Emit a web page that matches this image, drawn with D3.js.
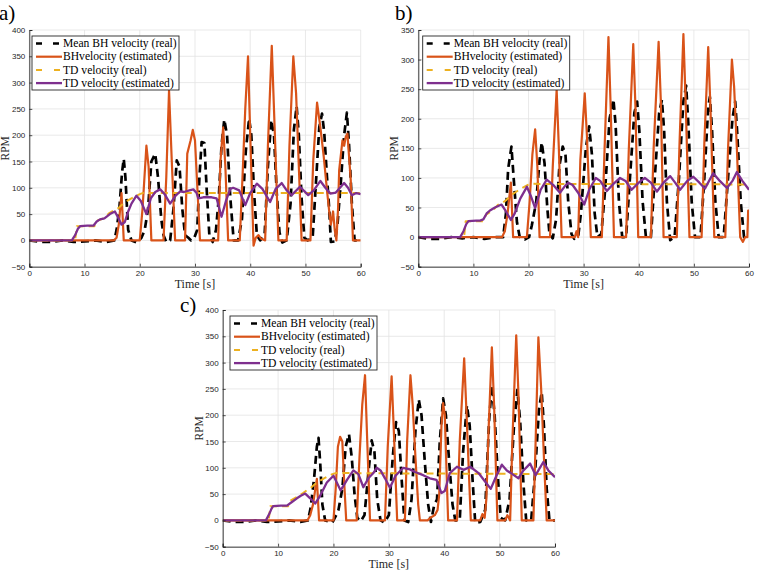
<!DOCTYPE html>
<html>
<head>
<meta charset="utf-8">
<script src="https://cdn.jsdelivr.net/npm/d3@7/dist/d3.min.js"></script>
<style>
  body { margin: 0; background: #fff; }
  svg { display: block; }
</style>
</head>
<body>
<div id="chart"></div>
<script>
// ---- data ----
const timeTicks = [0, 10, 20, 30, 40, 50, 60];
const rpmTicks400 = [-50, 0, 50, 100, 150, 200, 250, 300, 350, 400];
const rpmTicks350 = [-50, 0, 50, 100, 150, 200, 250, 300, 350];
const panelLabels = ['a)', 'b)', 'c)'];
const legendLabels = ['Mean BH velocity (real)', 'BHvelocity (estimated)', 'TD velocity (real)', 'TD velocity (estimated)'];

// panel a  [time s, rpm]
const aBHreal = [[0,0],[2,-3],[4,-3],[6,0],[8,-3],[10,-2],[12,0],[14,-3],[15.4,0],[15.8,20],[16.3,60],[16.8,130],[17.1,155],[17.4,120],[17.9,20],[18.5,0],[19.5,-4],[20.3,5],[20.9,20],[21.5,60],[22.1,150],[22.8,165],[23.3,120],[23.9,40],[24.3,10],[24.8,-3],[25.5,0],[26.1,60],[26.7,152],[27.2,140],[27.7,60],[28.2,10],[28.8,5],[29.3,0],[29.8,3],[30.4,20],[30.8,120],[31.2,187],[31.7,185],[32.1,100],[32.6,10],[33.2,-3],[33.8,20],[34.3,80],[34.8,180],[35.3,230],[35.8,200],[36.4,80],[37.0,0],[37.8,0],[38.5,40],[39.2,170],[39.8,232],[40.2,200],[40.7,90],[41.2,10],[41.8,0],[42.6,10],[43.2,140],[43.8,229],[44.3,200],[44.8,90],[45.3,15],[45.8,-4],[46.6,0],[47.3,70],[47.9,210],[48.4,255],[48.8,200],[49.3,80],[49.8,5],[50.4,0],[51.3,5],[51.9,110],[52.5,215],[53.0,241],[53.4,205],[53.9,120],[54.3,60],[54.6,-3],[55.3,-2],[55.8,30],[56.4,110],[57.0,200],[57.5,243],[57.9,180],[58.4,70],[58.9,0],[60,0]];
const aBHest = [[0,0],[15.3,0],[15.8,5],[16.2,30],[16.7,90],[17.1,0],[20.0,0],[20.5,60],[21.2,180],[21.6,140],[22.1,0],[24.3,0],[24.8,120],[25.3,285],[25.8,150],[26.4,0],[28.2,0],[28.6,165],[29.2,190],[29.6,210],[30.0,190],[30.9,0],[34.2,0],[34.6,150],[35.1,215],[35.5,140],[36.0,0],[38.1,0],[38.6,120],[39.1,250],[39.6,350],[40.0,200],[40.6,-10],[41.0,5],[41.5,10],[42.0,3],[42.7,0],[43.2,180],[43.9,370],[44.4,220],[45.1,0],[46.6,0],[47.1,180],[47.8,350],[48.3,280],[49.3,0],[50.9,0],[51.4,150],[52.1,262],[52.7,215],[53.3,160],[53.9,95],[54.3,55],[54.6,30],[55.0,55],[55.3,20],[55.6,0],[55.9,60],[56.1,133],[56.7,190],[57.0,180],[57.3,197],[57.6,203],[58.2,114],[58.6,0],[60,0]];
const aTDreal = [[0,0],[8.3,0],[8.6,27],[11.8,27],[12.2,37],[13.5,42],[14.5,52],[15.3,57],[16.2,62],[17.2,72],[18.5,80],[20.0,88],[20.5,90],[60,90]];
const aTDest = [[0,0],[7.7,0],[8.3,10],[8.8,22],[9.2,27],[10.5,28],[11.6,28],[12.2,36],[12.8,40],[13.6,42],[14.6,50],[15.5,55],[16.0,45],[16.7,30],[17.3,35],[17.9,55],[18.5,70],[19.4,85],[20.2,75],[21.2,50],[22.0,80],[22.8,92],[23.7,97],[24.5,88],[25.5,70],[26.5,85],[27.3,93],[28.0,92],[29.0,95],[29.7,97],[30.3,90],[30.6,80],[31.5,82],[33.0,82],[33.9,80],[34.8,45],[35.6,75],[36.4,98],[36.9,100],[38.0,95],[39.1,67],[40.0,90],[41.2,108],[42.2,98],[43.6,73],[44.6,98],[45.7,109],[46.6,95],[47.5,86],[49.0,102],[50.5,86],[51.5,95],[52.7,113],[53.6,100],[54.5,89],[55.5,91],[57.0,109],[57.7,100],[58.4,86],[59.2,90],[60,88]];

// panel b
const bBHreal = [[0,0],[2,-3],[4,-3],[6,0],[8,-2],[10,0],[12,-3],[14,0],[15.4,0],[15.9,40],[16.3,115],[16.9,153],[17.3,100],[17.9,25],[18.4,0],[19.3,-4],[20.1,0],[20.6,20],[21.4,60],[22.0,130],[22.4,160],[22.9,125],[23.4,50],[23.8,5],[24.4,-2],[25.0,30],[25.6,120],[26.2,153],[26.7,140],[27.2,60],[27.8,5],[28.3,-3],[29.0,0],[29.5,40],[30.4,150],[31.0,187],[31.5,140],[32.0,40],[32.5,0],[33.2,5],[33.9,80],[34.7,200],[35.4,233],[35.8,190],[36.4,60],[37.0,0],[37.7,0],[38.4,100],[39.2,210],[39.7,229],[40.1,180],[40.7,60],[41.3,0],[42.2,0],[42.9,100],[43.7,210],[44.2,232],[44.6,180],[45.1,60],[45.7,-5],[46.5,0],[47.3,100],[48.1,230],[48.6,256],[49.0,190],[49.6,60],[50.2,0],[51.2,0],[51.9,100],[52.6,220],[52.9,237],[53.3,180],[53.9,60],[54.5,0],[55.4,0],[56.2,100],[57.0,200],[57.5,229],[57.9,170],[58.5,60],[59.1,0],[60,0]];
const bBHest = [[0,0],[15.2,0],[15.7,10],[16.2,40],[16.8,92],[17.2,0],[19.7,0],[20.2,60],[20.7,140],[21.2,182],[21.6,120],[22.0,0],[23.9,0],[24.4,120],[25.1,249],[25.5,150],[26.0,0],[28.4,0],[28.7,10],[29.0,0],[29.4,130],[30.2,243],[30.6,170],[31.3,0],[33.3,0],[33.8,150],[34.5,338],[34.9,220],[35.5,0],[37.7,0],[38.2,150],[39.0,326],[39.4,220],[39.9,0],[42.2,0],[42.7,150],[43.6,330],[44.0,230],[44.5,0],[46.9,0],[47.4,160],[48.1,343],[48.5,230],[49.2,0],[51.4,0],[51.9,160],[52.6,321],[53.0,220],[53.7,0],[55.7,0],[56.2,150],[56.9,300],[57.3,254],[57.8,150],[58.4,0],[58.9,-8],[59.3,0],[59.7,0],[59.85,45],[60,45]];
const bTDreal = [[0,0],[8.3,0],[8.6,27],[11.8,27],[12.3,38],[13.5,45],[14.5,55],[15.3,58],[16.0,63],[17.0,72],[18.3,80],[19.8,88],[20.5,90],[60,89]];
const bTDest = [[0,0],[7.6,0],[8.2,10],[8.7,22],[9.1,27],[10.5,28],[11.2,28],[11.8,30],[12.4,40],[13.0,45],[13.9,50],[15.1,55],[15.8,45],[16.8,29],[17.5,40],[18.5,65],[19.7,85],[20.4,70],[21.2,49],[22.2,80],[23.3,97],[24.5,88],[25.7,75],[26.5,85],[27.2,92],[28.0,88],[29.0,75],[30.1,55],[31.0,80],[32.2,100],[33.0,95],[34.2,78],[35.4,90],[36.6,100],[37.6,95],[38.7,80],[40.0,92],[41.1,100],[42.2,92],[43.3,77],[44.5,92],[45.7,103],[46.6,92],[47.5,80],[48.8,95],[49.9,102],[51.0,92],[52.0,82],[53.5,108],[54.7,95],[56.0,83],[57.0,95],[57.8,110],[58.8,95],[60,80]];

// panel c
const cBHreal = [[0,0],[2,-3],[4,-3],[6,0],[8,-3],[10,-2],[12,0],[14,-3],[15.4,0],[15.9,25],[16.5,80],[17.0,140],[17.3,157],[17.6,110],[18.0,30],[18.5,0],[19.8,-4],[20.5,10],[20.9,20],[21.6,60],[22.2,140],[22.8,164],[23.3,120],[23.8,50],[24.3,5],[24.9,-2],[25.6,10],[26.3,90],[26.9,152],[27.4,130],[27.9,40],[28.5,0],[29.2,-4],[30.0,10],[30.7,120],[31.3,187],[31.8,170],[32.3,80],[32.8,0],[33.5,-3],[34.1,40],[34.8,170],[35.4,230],[35.9,200],[36.5,110],[37.1,30],[37.6,-3],[38.2,30],[38.7,40],[39.2,150],[39.8,232],[40.3,200],[40.9,110],[41.5,30],[42.0,0],[42.8,0],[43.4,130],[44.1,219],[44.6,180],[45.1,80],[45.6,-5],[46.5,-3],[47.4,20],[48.1,190],[48.6,257],[49.1,200],[49.7,80],[50.2,5],[51.0,0],[51.8,40],[52.6,180],[53.2,248],[53.7,190],[54.3,70],[54.8,0],[55.7,0],[56.4,90],[57.1,210],[57.6,244],[58.0,180],[58.5,60],[59.0,0],[60,0]];
const cBHest = [[0,0],[15.3,0],[15.8,10],[16.3,30],[17.0,79],[17.4,0],[20.0,0],[20.4,60],[20.8,140],[21.2,159],[21.6,150],[21.9,80],[22.3,0],[24.2,0],[24.7,120],[25.2,220],[25.7,276],[26.1,150],[26.6,0],[29.3,0],[29.8,140],[30.5,274],[30.9,170],[31.5,0],[32.9,0],[33.3,150],[33.9,276],[34.3,220],[34.8,120],[35.3,30],[35.6,0],[37.0,0],[37.5,5],[38.3,10],[38.8,20],[39.1,50],[39.5,180],[39.8,223],[40.1,200],[40.7,0],[42.3,0],[42.8,150],[43.6,308],[44.0,210],[44.8,0],[46.5,0],[46.9,12],[47.3,5],[47.6,40],[48.0,170],[48.6,329],[49.0,220],[49.6,0],[51.0,0],[51.4,10],[51.9,0],[52.3,150],[53.0,352],[53.4,240],[54.0,0],[56.1,0],[56.5,150],[57.0,348],[57.5,250],[58.0,120],[58.5,0],[60,0]];
const cTDreal = [[0,0],[8.3,0],[8.6,27],[11.8,27],[12.3,38],[13.5,45],[14.5,52],[15.3,58],[16.0,63],[17.0,72],[18.3,80],[19.8,88],[20.5,90],[60,88]];
const cTDest = [[0,0],[7.8,0],[8.4,12],[8.8,22],[9.1,27],[10.5,28],[11.6,28],[12.5,35],[13.4,42],[14.1,47],[14.9,51],[15.8,42],[16.7,32],[17.5,45],[18.8,72],[20.0,85],[20.6,72],[21.3,57],[22.5,78],[23.6,95],[24.5,88],[25.4,63],[26.3,80],[27.2,90],[27.8,100],[28.5,95],[29.3,80],[30.2,62],[31.2,85],[32.6,100],[33.8,97],[34.7,92],[36.2,86],[37.4,80],[38.6,77],[39.5,52],[40.1,56],[41.0,90],[42.3,102],[43.5,96],[44.7,102],[46.2,90],[47.3,75],[48.4,60],[49.3,82],[50.4,106],[51.3,95],[52.3,88],[53.4,80],[54.3,95],[55.5,108],[56.5,86],[57.9,111],[58.8,95],[60,82]];

// ---- drawing ----
const W = 759, H = 571;
const COLORS = ['#000000', '#D95319', '#EDB120', '#7E2F8E'];
const STYLES = [
  { width: 2.7, dash: '8,5' },
  { width: 2.2, dash: null },
  { width: 2, dash: '7,5' },
  { width: 2.3, dash: null }
];
const SERIF = '"Liberation Serif", "Times New Roman", serif';

const svg = d3.select('#chart').append('svg')
  .attr('width', W).attr('height', H)
  .attr('viewBox', `0 0 ${W} ${H}`);

function drawPanel(idx, box, yTicks, series, label, labelX, labelY) {
  const x = d3.scaleLinear().domain([0, 60]).range([box.x0, box.x1]);
  const y = d3.scaleLinear().domain([-50, d3.max(yTicks)]).range([box.y1, box.y0]);
  const g = svg.append('g');

  // grid
  g.selectAll('.gx').data(timeTicks).join('line')
    .attr('x1', d => x(d)).attr('x2', d => x(d))
    .attr('y1', box.y0).attr('y2', box.y1)
    .attr('stroke', '#e3e3e3').attr('stroke-width', 0.8);
  g.selectAll('.gy').data(yTicks).join('line')
    .attr('x1', box.x0).attr('x2', box.x1)
    .attr('y1', d => y(d)).attr('y2', d => y(d))
    .attr('stroke', '#e3e3e3').attr('stroke-width', 0.8);

  // lines
  const clipId = 'clip' + idx;
  svg.append('clipPath').attr('id', clipId).append('rect')
    .attr('x', box.x0).attr('y', box.y0)
    .attr('width', box.x1 - box.x0).attr('height', box.y1 - box.y0);
  const line = d3.line().x(d => x(d[0])).y(d => y(d[1]));
  const lg = g.append('g').attr('clip-path', `url(#${clipId})`);
  series.forEach((s, i) => {
    lg.append('path').datum(s).attr('d', line)
      .attr('fill', 'none').attr('stroke', COLORS[i])
      .attr('stroke-width', STYLES[i].width)
      .attr('stroke-dasharray', STYLES[i].dash)
      .attr('stroke-linejoin', 'round');
  });

  // axes
  const xAxis = g.append('g').attr('transform', `translate(0,${box.y1})`)
    .call(d3.axisBottom(x).tickValues(timeTicks).tickSize(-3).tickPadding(4));
  const yAxis = g.append('g').attr('transform', `translate(${box.x0},0)`)
    .call(d3.axisLeft(y).tickValues(yTicks).tickSize(-3).tickPadding(4));
  [xAxis, yAxis].forEach(a => {
    a.select('.domain').attr('stroke', '#262626').attr('stroke-width', 0.9);
    a.selectAll('.tick line').attr('stroke', '#262626').attr('stroke-width', 0.8);
    a.selectAll('text').attr('fill', '#262626')
      .style('font-family', '"Liberation Sans", Arial, sans-serif').style('font-size', '8px');
  });

  // axis labels
  g.append('text').attr('x', (box.x0 + box.x1) / 2).attr('y', box.y1 + 21.5)
    .attr('text-anchor', 'middle').attr('fill', '#262626')
    .style('font-family', SERIF).style('font-size', '12px')
    .text('Time [s]');
  g.append('text')
    .attr('transform', `translate(${box.x0 - 20},${(box.y0 + box.y1) / 2}) rotate(-90)`)
    .attr('text-anchor', 'middle').attr('fill', '#262626')
    .style('font-family', SERIF).style('font-size', '11.5px')
    .text('RPM');

  // legend
  const lx = box.x0 + box.legDx, ly = box.y0 + 6;
  const leg = g.append('g');
  leg.append('rect').attr('x', lx).attr('y', ly).attr('width', 147).attr('height', 54)
    .attr('fill', '#fff').attr('stroke', '#262626').attr('stroke-width', 0.9);
  legendLabels.forEach((t, i) => {
    const cy = ly + 7.5 + i * 13.2;
    leg.append('line').attr('x1', lx + 4).attr('x2', lx + 30).attr('y1', cy).attr('y2', cy)
      .attr('stroke', COLORS[i]).attr('stroke-width', STYLES[i].width)
      .attr('stroke-dasharray', i === 0 ? '6,11' : (i === 2 ? '6,12' : null));
    leg.append('text').attr('x', lx + 31).attr('y', cy + 3.6).attr('fill', '#000')
      .style('font-family', SERIF).style('font-size', '11.6px')
      .text(t);
  });

  // panel letter
  svg.append('text').attr('x', labelX).attr('y', labelY).attr('fill', '#000')
    .style('font-family', SERIF).style('font-size', '21px')
    .text(label);
}

drawPanel(0, { x0: 29.3, x1: 360.7, y0: 30, y1: 266.7, legDx: 2.7 }, rpmTicks400,
  [aBHreal, aBHest, aTDreal, aTDest], panelLabels[0], -1, 20);
drawPanel(1, { x0: 418.3, x1: 749, y0: 30, y1: 266.7, legDx: 4.4 }, rpmTicks350,
  [bBHreal, bBHest, bTDreal, bTDest], panelLabels[1], 395, 20);
drawPanel(2, { x0: 222.7, x1: 555, y0: 310, y1: 546.7, legDx: 7.3 }, rpmTicks400,
  [cBHreal, cBHest, cTDreal, cTDest], panelLabels[2], 180, 312);
</script>
</body>
</html>
